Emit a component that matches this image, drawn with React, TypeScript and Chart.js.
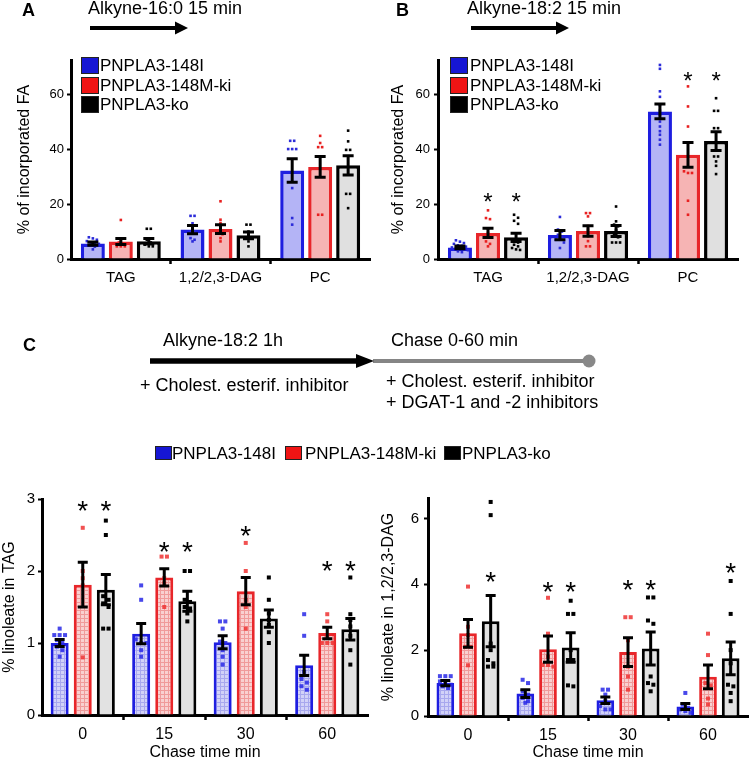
import React, { useEffect, useRef } from 'react';
import { Chart, registerables } from 'chart.js';

Chart.register(...registerables);

const FONT = '"Liberation Sans", Arial, Helvetica, sans-serif';
Chart.defaults.font.family = FONT;
Chart.defaults.color = '#000';

// ---------- categories ----------
const groupNames = ['PNPLA3-148I', 'PNPLA3-148M-ki', 'PNPLA3-ko'];
const lipidClasses = ['TAG', '1,2/2,3-DAG', 'PC'];
const chaseTimes = ['0', '15', '30', '60'];

// ---------- Panel A: Alkyne-16:0 15 min ----------
const aMean148I = [5.6, 10.7, 32.2];
const aMean148M = [6.4, 10.9, 33.5];
const aMeanKo = [6.5, 8.6, 34.1];
const aSem148I = [0.6, 1.5, 4.3];
const aSem148M = [1.1, 1.6, 3.8];
const aSemKo = [1.0, 1.2, 3.5];
const aPts148I = [[7.9, 7.5, 7, 6.5, 6, 5.8, 5.5, 5, 4.5, 3.5], [15.7, 15.7, 13, 11.3, 10, 10, 7.6, 7, 6.4], [43, 43, 40, 40, 40, 25.8, 14.9, 12.5]];
const aPts148M = [[14.2, 6, 5.5, 4.6, 4.6, 4.6], [21, 14.3, 13.1, 11, 9.5, 9, 7.6, 6.4], [44.8, 42.2, 40.7, 40.7, 16.1, 16.1]];
const aPtsKo = [[11, 11, 7, 6, 5.2, 4.6, 4.6], [12.5, 12.5, 10, 8.5, 6.4, 4.6], [46.7, 42.8, 39.7, 39.7, 23.7, 23.7, 18.5]];
const aStars148M: (number | null)[] = [null, null, null];
const aStarsKo: (number | null)[] = [null, null, null];

// ---------- Panel B: Alkyne-18:2 15 min ----------
const bMean148I = [4.2, 8.7, 53.7];
const bMean148M = [9.5, 10.2, 37.9];
const bMeanKo = [7.9, 10.2, 42.9];
const bSem148I = [0.5, 1.7, 2.7];
const bSem148M = [1.7, 1.9, 4.5];
const bSemKo = [1.5, 2.0, 3.4];
const bPts148I = [[6.8, 6.3, 5.8, 5.5, 5, 4.8, 4.5, 4.2, 4, 3.8, 3.5, 3.2, 2.8, 2.5], [15.3, 10.7, 10, 8.8, 8, 7, 7, 6, 4], [70.6, 69.2, 61, 59, 56, 54, 52.5, 50, 48.2, 46.5, 45.2, 43.4, 41.6]];
const bPts148M = [[17.7, 14.9, 14.5, 11, 9.5, 8.2, 6.4, 5.5, 4.6], [16.7, 16.7, 15.5, 12, 10.7, 8.2, 6.5, 4.6, 4.6], [62.8, 55.5, 48.2, 31.9, 31.3, 31.3, 21.2, 16.1]];
const bPtsKo = [[16.1, 15, 13.9, 12.8, 7, 6, 5.2, 4.6, 4, 3.5, 3.3], [19.1, 13.7, 12.5, 11.9, 10.5, 9, 7.9, 6, 6, 6], [58.5, 53.9, 53.9, 47.6, 47.6, 37.3, 37.3, 35.5, 33.9, 30.9]];
const bStars148M: (number | null)[] = [22.8, null, 67];
const bStarsKo: (number | null)[] = [22.8, null, 67];

// ---------- Panel C left: % linoleate in TAG ----------
const cTagMean148I = [1.0, 1.13, 1.01, 0.69];
const cTagMean148M = [1.81, 1.91, 1.72, 1.14];
const cTagMeanKo = [1.74, 1.58, 1.34, 1.19];
const cTagSem148I = [0.05, 0.14, 0.09, 0.14];
const cTagSem148M = [0.31, 0.12, 0.19, 0.08];
const cTagSemKo = [0.21, 0.14, 0.12, 0.15];
const cTagPts148I = [[1.2, 1.11, 1.11, 1.11, 1.04, 1.0, 0.95, 0.9, 0.81], [1.8, 1.6, 1.05, 1.0, 1.0, 0.9, 0.81], [1.3, 1.3, 1.2, 1.02, 1.0, 0.9, 0.81, 0.7], [1.4, 1.1, 0.6, 0.5, 0.45, 0.35, 0.4]];
const cTagPts148M = [[2.6, 2.0, 1.9, 1.8, 0.8], [2.2, 2.2, 1.9, 1.83, 1.5], [2.39, 2.0, 1.6, 1.5, 1.2], [1.4, 1.3, 1.1, 1.0, 1.0, 1.0]];
const cTagPtsKo = [[2.7, 2.5, 1.65, 1.6, 1.55, 1.5, 1.2, 1.2], [2.0, 2.0, 1.6, 1.57, 1.5, 1.48, 1.41, 1.3], [1.91, 1.6, 1.41, 1.32, 1.25, 1.15, 1.0], [1.91, 1.4, 1.32, 1.23, 1.1, 0.9, 0.7]];
const cTagStars148I: (number | null)[] = [null, null, null, null];
const cTagStars148M: (number | null)[] = [2.94, 2.36, 2.58, 2.1];
const cTagStarsKo: (number | null)[] = [2.94, 2.36, null, 2.1];

// ---------- Panel C right: % linoleate in 1,2/2,3-DAG ----------
const cDagMean148I = [1.0, 0.68, 0.48, 0.29];
const cDagMean148M = [2.51, 2.03, 1.94, 1.19];
const cDagMeanKo = [2.88, 2.08, 2.05, 1.75];
const cDagSem148I = [0.08, 0.12, 0.1, 0.09];
const cDagSem148M = [0.42, 0.4, 0.44, 0.36];
const cDagSemKo = [0.78, 0.45, 0.5, 0.5];
const cDagPts148I = [[1.21, 1.21, 1.21, 1.05, 1.0, 0.95, 0.9, 0.85], [1.1, 1.0, 0.75, 0.65, 0.55, 0.45, 0.4], [0.8, 0.8, 0.65, 0.45, 0.3, 0.2, 0.2], [0.7, 0.35, 0.25, 0.2, 0.15, 0.1]];
const cDagPts148M = [[3.93, 2.71, 2.46, 2.1, 2.1, 1.54], [3.59, 2.5, 1.8, 1.55, 1.55, 1.5], [3.0, 3.0, 2.3, 1.5, 1.2, 0.8], [2.5, 1.85, 1.0, 0.93, 0.53, 0.35]];
const cDagPtsKo = [[6.5, 6.1, 2.2, 2.0, 1.7, 1.6, 1.5, 1.5], [3.5, 3.1, 3.1, 2.0, 1.7, 1.7, 0.93, 0.9], [3.6, 3.6, 2.9, 2.8, 1.2, 1.0, 0.95, 0.75], [4.1, 3.1, 2.0, 1.6, 0.95, 0.9, 0.7, 0.45]];
const cDagStars148I: (number | null)[] = [null, null, null, null];
const cDagStars148M: (number | null)[] = [null, 4.0, 4.05, null];
const cDagStarsKo: (number | null)[] = [4.28, 4.0, 4.05, 4.56];

// ---------- axis settings ----------
const abYMax = 72.4;
const abYStep = 20;
const cTagYMax = 3;
const cTagYStep = 1;
const cDagYMax = 6.62;
const cDagYStep = 2;

type Series = { mean: number[]; sem: number[]; pts: number[][]; stars: (number | null)[] };
type Fill = { bg: string; line?: string };

type PanelCfg = {
  left: number; top: number; width: number; height: number;
  labels: string[];
  series: Series[];
  yMax: number; yStep: number; yTitle: string; xTitle?: string;
  padRight: number; padTop: number; yAxisW: number; xAxisH: number;
  yTitlePad: number; yTickFont: number; yTickPad: number;
  xTickFont: number; xTickPad: number; xTitlePad?: number;
  catPct: number; barPct: number; borderW: number;
  fills: Fill[]; borders: string[]; pointColors: string[];
  pointSize: number; capHalf: number; errW: number; starSize: number;
};

function makePattern(ctx: CanvasRenderingContext2D, bg: string, line: string) {
  const c = document.createElement('canvas');
  c.width = 4;
  c.height = 4;
  const x = c.getContext('2d')!;
  x.fillStyle = bg;
  x.fillRect(0, 0, 4, 4);
  x.fillStyle = line;
  x.fillRect(0, 0, 4, 1);
  x.fillRect(0, 0, 1, 4);
  return ctx.createPattern(c, 'repeat') as CanvasPattern;
}

function overlayPlugin(cfg: PanelCfg) {
  return {
    id: 'errOverlay',
    afterDatasetsDraw(chart: any) {
      const ctx: CanvasRenderingContext2D = chart.ctx;
      const ys = chart.scales.y;
      ctx.save();
      // points
      cfg.series.forEach((s, di) => {
        const meta = chart.getDatasetMeta(di);
        meta.data.forEach((bar: any, j: number) => {
          const cx = bar.x;
          const sz = cfg.pointSize;
          const gap = sz + 1.4;
          const vals = [...(s.pts[j] || [])].sort((a, b) => b - a);
          const clusters: number[][] = [];
          vals.forEach((v) => {
            const py = ys.getPixelForValue(v);
            const last = clusters[clusters.length - 1];
            if (last && Math.abs(ys.getPixelForValue(last[0]) - py) < sz + 0.6) last.push(v);
            else clusters.push([v]);
          });
          ctx.fillStyle = cfg.pointColors[di];
          clusters.forEach((cl) => {
            const n = cl.length;
            cl.forEach((v, k) => {
              const py = ys.getPixelForValue(v);
              const ox = (k - (n - 1) / 2) * gap;
              ctx.fillRect(cx + ox - sz / 2, py - sz / 2, sz, sz);
            });
          });
        });
      });
      // error bars
      ctx.strokeStyle = '#000';
      ctx.lineWidth = cfg.errW;
      ctx.lineCap = 'butt';
      cfg.series.forEach((s, di) => {
        const meta = chart.getDatasetMeta(di);
        meta.data.forEach((bar: any, j: number) => {
          const cx = bar.x;
          const yt = ys.getPixelForValue(s.mean[j] + s.sem[j]);
          const yb = ys.getPixelForValue(Math.max(0, s.mean[j] - s.sem[j]));
          ctx.beginPath();
          ctx.moveTo(cx, yt);
          ctx.lineTo(cx, yb);
          ctx.moveTo(cx - cfg.capHalf, yt);
          ctx.lineTo(cx + cfg.capHalf, yt);
          ctx.moveTo(cx - cfg.capHalf, yb);
          ctx.lineTo(cx + cfg.capHalf, yb);
          ctx.stroke();
        });
      });
      // significance stars
      ctx.fillStyle = '#000';
      ctx.font = `${cfg.starSize}px ${FONT}`;
      ctx.textAlign = 'center';
      ctx.textBaseline = 'alphabetic';
      cfg.series.forEach((s, di) => {
        const meta = chart.getDatasetMeta(di);
        meta.data.forEach((bar: any, j: number) => {
          const v = s.stars[j];
          if (v === null || v === undefined) return;
          const py = ys.getPixelForValue(v);
          ctx.fillText('*', bar.x, py + 0.58 * cfg.starSize);
        });
      });
      ctx.restore();
    },
  };
}

function BarPanel({ cfg }: { cfg: PanelCfg }) {
  const ref = useRef<HTMLCanvasElement>(null);
  useEffect(() => {
    const canvas = ref.current!;
    const ctx = canvas.getContext('2d')!;
    const fills = cfg.fills.map((f) => (f.line ? makePattern(ctx, f.bg, f.line) : f.bg));
    const chart = new Chart(canvas, {
      type: 'bar',
      data: {
        labels: cfg.labels,
        datasets: cfg.series.map((s, i) => ({
          label: groupNames[i],
          data: s.mean,
          backgroundColor: fills[i] as any,
          borderColor: cfg.borders[i],
          borderWidth: cfg.borderW,
          categoryPercentage: cfg.catPct,
          barPercentage: cfg.barPct,
        })),
      },
      options: {
        responsive: false,
        animation: false,
        devicePixelRatio: 1,
        layout: { padding: { left: 0, right: cfg.padRight, top: cfg.padTop, bottom: 0 } },
        plugins: { legend: { display: false }, tooltip: { enabled: false } },
        scales: {
          x: {
            type: 'category',
            offset: true,
            grid: {
              offset: true,
              drawOnChartArea: false,
              drawTicks: true,
              tickLength: 5,
              tickWidth: 2.5,
              tickColor: (c: any) => (c.index === undefined || c.index === 0 ? 'rgba(0,0,0,0)' : '#000'),
            },
            border: { display: true, color: '#000', width: 3 },
            ticks: { color: '#000', font: { family: FONT, size: cfg.xTickFont }, padding: cfg.xTickPad, maxRotation: 0 },
            title: cfg.xTitle
              ? { display: true, text: cfg.xTitle, color: '#000', font: { family: FONT, size: 16 }, padding: { top: 0, bottom: cfg.xTitlePad ?? 0 } }
              : { display: false },
            afterFit: (s: any) => {
              s.height = cfg.xAxisH;
            },
          },
          y: {
            min: 0,
            max: cfg.yMax,
            ticks: {
              stepSize: cfg.yStep,
              includeBounds: false,
              color: '#000',
              font: { family: FONT, size: cfg.yTickFont },
              padding: cfg.yTickPad,
            },
            grid: { drawOnChartArea: false, drawTicks: true, tickLength: 4, tickWidth: 2, tickColor: '#000' },
            border: { display: true, color: '#000', width: 3 },
            title: { display: true, text: cfg.yTitle, color: '#000', font: { family: FONT, size: 16 }, padding: { top: cfg.yTitlePad, bottom: 0 } },
            afterBuildTicks: (s: any) => {
              s.ticks = s.ticks.filter((t: any) => Math.abs(t.value / cfg.yStep - Math.round(t.value / cfg.yStep)) < 1e-6);
            },
            afterFit: (s: any) => {
              s.width = cfg.yAxisW;
            },
          },
        },
      } as any,
      plugins: [overlayPlugin(cfg)],
    });
    return () => chart.destroy();
  }, []);
  return (
    <canvas
      ref={ref}
      width={cfg.width}
      height={cfg.height}
      style={{ position: 'absolute', left: cfg.left, top: cfg.top, width: cfg.width, height: cfg.height }}
    />
  );
}

const plainFills: Fill[] = [{ bg: '#b4b4f6' }, { bg: '#f6b4b4' }, { bg: '#e0e0e0' }];
const gridFills: Fill[] = [{ bg: '#d2d2f8', line: '#a8a8ee' }, { bg: '#f9d0d0', line: '#f09a9a' }, { bg: '#e2e2e2' }];
const borderColors = ['#1e1ee0', '#e8262a', '#000000'];
const abPointColors = ['#2b2bd9', '#e82020', '#000000'];
const cPointColors = ['rgba(40,40,230,0.85)', 'rgba(238,50,50,0.85)', '#000000'];

const cfgA: PanelCfg = {
  left: 0, top: 0, width: 376, height: 300,
  labels: lipidClasses,
  series: [
    { mean: aMean148I, sem: aSem148I, pts: aPts148I, stars: [null, null, null] },
    { mean: aMean148M, sem: aSem148M, pts: aPts148M, stars: aStars148M },
    { mean: aMeanKo, sem: aSemKo, pts: aPtsKo, stars: aStarsKo },
  ],
  yMax: abYMax, yStep: abYStep, yTitle: '% of incorporated FA',
  padRight: 6, padTop: 60, yAxisW: 71, xAxisH: 41,
  yTitlePad: 15, yTickFont: 13, yTickPad: 3, xTickFont: 15, xTickPad: 5,
  catPct: 0.842, barPct: 0.857, borderW: 3.5,
  fills: plainFills, borders: borderColors, pointColors: abPointColors,
  pointSize: 2.6, capHalf: 5.5, errW: 3, starSize: 24,
};

const cfgB: PanelCfg = {
  ...cfgA,
  left: 376, width: 377,
  series: [
    { mean: bMean148I, sem: bSem148I, pts: bPts148I, stars: [null, null, null] },
    { mean: bMean148M, sem: bSem148M, pts: bPts148M, stars: bStars148M },
    { mean: bMeanKo, sem: bSemKo, pts: bPtsKo, stars: bStarsKo },
  ],
  padRight: 15, yAxisW: 62, yTitlePad: 13, yTickPad: 4,
};

const cfgCL: PanelCfg = {
  left: 0, top: 450, width: 376, height: 320,
  labels: chaseTimes,
  series: [
    { mean: cTagMean148I, sem: cTagSem148I, pts: cTagPts148I, stars: cTagStars148I },
    { mean: cTagMean148M, sem: cTagSem148M, pts: cTagPts148M, stars: cTagStars148M },
    { mean: cTagMeanKo, sem: cTagSemKo, pts: cTagPtsKo, stars: cTagStarsKo },
  ],
  yMax: cTagYMax, yStep: cTagYStep, yTitle: '% linoleate in TAG', xTitle: 'Chase time min',
  padRight: 8, padTop: 49, yAxisW: 42, xAxisH: 55,
  yTitlePad: 0, yTickFont: 15, yTickPad: 3, xTickFont: 16, xTickPad: 5, xTitlePad: 8,
  catPct: 0.85, barPct: 0.78, borderW: 3,
  fills: gridFills, borders: borderColors, pointColors: cPointColors,
  pointSize: 4, capHalf: 5, errW: 3, starSize: 28,
};

const cfgCR: PanelCfg = {
  ...cfgCL,
  left: 376, width: 377,
  series: [
    { mean: cDagMean148I, sem: cDagSem148I, pts: cDagPts148I, stars: cDagStars148I },
    { mean: cDagMean148M, sem: cDagSem148M, pts: cDagPts148M, stars: cDagStars148M },
    { mean: cDagMeanKo, sem: cDagSemKo, pts: cDagPtsKo, stars: cDagStarsKo },
  ],
  yMax: cDagYMax, yStep: cDagYStep, yTitle: '% linoleate in 1,2/2,3-DAG',
  padRight: 5, padTop: 48, yAxisW: 52, xAxisH: 54,
  yTitlePad: 3, yTickPad: 5,
};

function Txt({ x, y, size, bold, children }: { x: number; y: number; size: number; bold?: boolean; children: React.ReactNode }) {
  return (
    <div
      style={{
        position: 'absolute', left: x, top: y, fontSize: size, lineHeight: 1,
        whiteSpace: 'nowrap', fontWeight: bold ? 700 : 400, fontFamily: FONT, color: '#000',
      }}
    >
      {children}
    </div>
  );
}

const legendFills = ['#1616d4', '#f01414', '#000000'];

function PanelLegend({ x, textX }: { x: number; textX: number }) {
  const centers = [65.5, 85, 104.5];
  return (
    <>
      {groupNames.map((g, i) => (
        <React.Fragment key={g}>
          <div
            style={{
              position: 'absolute', left: x, top: centers[i] - 8.5, width: 18, height: 17,
              boxSizing: 'border-box', background: legendFills[i], border: '1.5px solid #222',
            }}
          />
          <Txt x={textX} y={centers[i] - 8.3} size={17}>{g}</Txt>
        </React.Fragment>
      ))}
    </>
  );
}

export default function App() {
  const cLegend = [
    { box: 155, text: 172 },
    { box: 285, text: 305 },
    { box: 444, text: 462 },
  ];
  return (
    <div
      style={{
        position: 'fixed', left: 0, top: 0, width: 753, height: 757, overflow: 'hidden',
        background: '#fff', fontFamily: FONT,
      }}
    >
      <BarPanel cfg={cfgA} />
      <BarPanel cfg={cfgB} />
      <BarPanel cfg={cfgCL} />
      <BarPanel cfg={cfgCR} />

      <svg width={753} height={757} style={{ position: 'absolute', left: 0, top: 0, pointerEvents: 'none' }}>
        {/* A arrow */}
        <line x1={90} y1={28} x2={177} y2={28} stroke="#000" strokeWidth={4} />
        <polygon points="175,21.5 188,28 175,34.5" fill="#000" />
        {/* B arrow */}
        <line x1={471} y1={28} x2={558} y2={28} stroke="#000" strokeWidth={4} />
        <polygon points="556,21.5 569,28 556,34.5" fill="#000" />
        {/* C timeline */}
        <line x1={373} y1={361} x2={589} y2={361} stroke="#858585" strokeWidth={4} />
        <circle cx={589} cy={361} r={6.5} fill="#888" />
        <line x1={150} y1={361} x2={358} y2={361} stroke="#000" strokeWidth={5.5} />
        <polygon points="356,354 374,361 356,368" fill="#000" />
      </svg>

      {/* panel letters and titles */}
      <Txt x={22} y={1} size={18} bold>A</Txt>
      <Txt x={88} y={-1} size={18}>Alkyne-16:0 15 min</Txt>
      <Txt x={396} y={1} size={18} bold>B</Txt>
      <Txt x={467} y={-1} size={18}>Alkyne-18:2 15 min</Txt>
      <PanelLegend x={81} textX={100} />
      <PanelLegend x={450} textX={470} />

      <Txt x={23} y={336} size={18} bold>C</Txt>
      <Txt x={163} y={331} size={18}>Alkyne-18:2 1h</Txt>
      <Txt x={140} y={376} size={18}>+ Cholest. esterif. inhibitor</Txt>
      <Txt x={391} y={331} size={18}>Chase 0-60 min</Txt>
      <Txt x={386} y={371.5} size={18}>+ Cholest. esterif. inhibitor</Txt>
      <Txt x={386} y={393} size={18}>+ DGAT-1 and -2 inhibitors</Txt>

      {/* C shared legend */}
      {groupNames.map((g, i) => (
        <React.Fragment key={g}>
          <div
            style={{
              position: 'absolute', left: cLegend[i].box, top: 446, width: 17, height: 14,
              boxSizing: 'border-box', background: legendFills[i], border: '1px solid #222',
            }}
          />
          <Txt x={cLegend[i].text} y={444.7} size={17}>{g}</Txt>
        </React.Fragment>
      ))}
    </div>
  );
}
